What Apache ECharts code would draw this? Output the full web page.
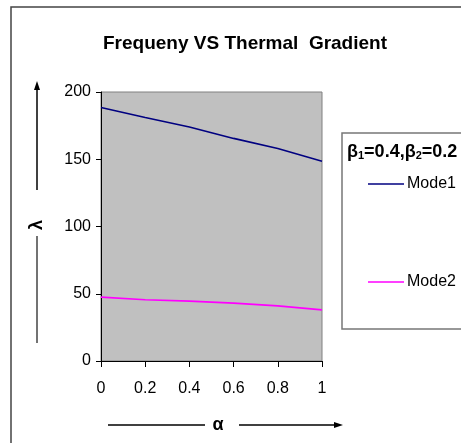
<!DOCTYPE html>
<html>
<head>
<meta charset="utf-8">
<script src="https://cdn.jsdelivr.net/npm/echarts@6/dist/echarts.min.js"></script>
<style>
  html, body { margin: 0; padding: 0; background: #fff; }
  #main { width: 461px; height: 443px; }
</style>
</head>
<body>
<div id="main"></div>
<script>
// data
var alphaValues = [0, 0.2, 0.4, 0.6, 0.8, 1];
var mode1 = [188.5, 181, 174, 165.5, 158, 148.5];
var mode2 = [47.5, 45.5, 44.5, 43, 41, 38];
var seriesNames = ['Mode1', 'Mode2'];
var yTicks = [0, 50, 100, 150, 200];

function pairs(xs, ys) {
  var out = [];
  for (var i = 0; i < xs.length; i++) out.push([xs[i], ys[i]]);
  return out;
}

var font = 'Liberation Sans, Arial, sans-serif';
var chart = echarts.init(document.getElementById('main'));

var option = {
  backgroundColor: '#fff',
  animation: false,
  title: {
    text: 'Frequeny VS Thermal  Gradient',
    left: 240, textAlign: 'center', top: 29,
    textStyle: { fontFamily: font, fontSize: 19, fontWeight: 'bold', color: '#000' }
  },
  grid: {
    left: 101, top: 92, right: 139, bottom: 82,
    show: true, backgroundColor: '#c0c0c0', borderColor: '#808080', borderWidth: 1
  },
  xAxis: {
    type: 'value', min: 0, max: 1, interval: 0.2,
    axisLine: { show: true, lineStyle: { color: '#000', width: 1 } },
    axisTick: { show: true, length: 6, lineStyle: { color: '#000' } },
    splitLine: { show: false },
    axisLabel: { fontFamily: font, fontSize: 16, color: '#000', margin: 20 }
  },
  yAxis: {
    type: 'value', min: yTicks[0], max: yTicks[yTicks.length - 1], interval: 50,
    axisLine: { show: true, lineStyle: { color: '#000', width: 1 } },
    axisTick: { show: true, length: 5, lineStyle: { color: '#000' } },
    splitLine: { show: false },
    axisLabel: { fontFamily: font, fontSize: 16, color: '#000', margin: 10 }
  },
  legend: {
    orient: 'vertical', left: 363, top: 171, itemGap: 82,
    icon: 'rect', itemWidth: 36, itemHeight: 1.5,
    textStyle: { fontFamily: font, fontSize: 16, color: '#000', padding: [0, 0, 0, -2] },
    data: seriesNames
  },
  series: [
    { name: seriesNames[0], type: 'line', data: pairs(alphaValues, mode1), symbol: 'none',
      color: '#000080', lineStyle: { width: 1.6, color: '#000080' } },
    { name: seriesNames[1], type: 'line', data: pairs(alphaValues, mode2), symbol: 'none',
      color: '#ff00ff', lineStyle: { width: 1.6, color: '#ff00ff' } }
  ],
  graphic: [
    // outer chart border
    { type: 'rect', shape: { x: 11, y: 7, width: 520, height: 520 },
      style: { fill: null, stroke: '#444', lineWidth: 1.5 }, silent: true },
    // legend box
    { type: 'rect', shape: { x: 342, y: 133, width: 140, height: 196 },
      style: { fill: null, stroke: '#777', lineWidth: 1.5 }, silent: true },
    { type: 'text', left: 347, top: 143,
      style: {
        text: '{b|β}{s|1}{b|=0.4,β}{s|2}{b|=0.2}',
        rich: {
          b: { fontFamily: font, fontSize: 18, fontWeight: 'bold', fill: '#000' },
          s: { fontFamily: font, fontSize: 11, fontWeight: 'bold', fill: '#000', verticalAlign: 'bottom' }
        }
      }
    },
    // y axis name with arrows
    { type: 'line', shape: { x1: 37, y1: 190, x2: 37, y2: 88 }, style: { stroke: '#000', lineWidth: 1.5 } },
    { type: 'polygon', shape: { points: [[37, 81], [34, 90], [40, 90]] }, style: { fill: '#000' } },
    { type: 'text', x: 37, y: 225, rotation: Math.PI / 2,
      style: { text: 'λ', fontFamily: font, fontSize: 18, fontWeight: 'bold', fill: '#000',
        textAlign: 'center', textVerticalAlign: 'middle' } },
    { type: 'line', shape: { x1: 37, y1: 236, x2: 37, y2: 343 }, style: { stroke: '#444', lineWidth: 1.5 } },
    // x axis name with arrows
    { type: 'line', shape: { x1: 108, y1: 425, x2: 205, y2: 425 }, style: { stroke: '#000', lineWidth: 1.3 } },
    { type: 'text', x: 218, y: 425,
      style: { text: 'α', fontFamily: font, fontSize: 18, fontWeight: 'bold', fill: '#000',
        textAlign: 'center', textVerticalAlign: 'middle' } },
    { type: 'line', shape: { x1: 239, y1: 425, x2: 336, y2: 425 }, style: { stroke: '#000', lineWidth: 1.6 } },
    { type: 'polygon', shape: { points: [[343, 425], [334, 422], [334, 428]] }, style: { fill: '#000' } }
  ]
};

chart.setOption(option);
</script>
</body>
</html>
